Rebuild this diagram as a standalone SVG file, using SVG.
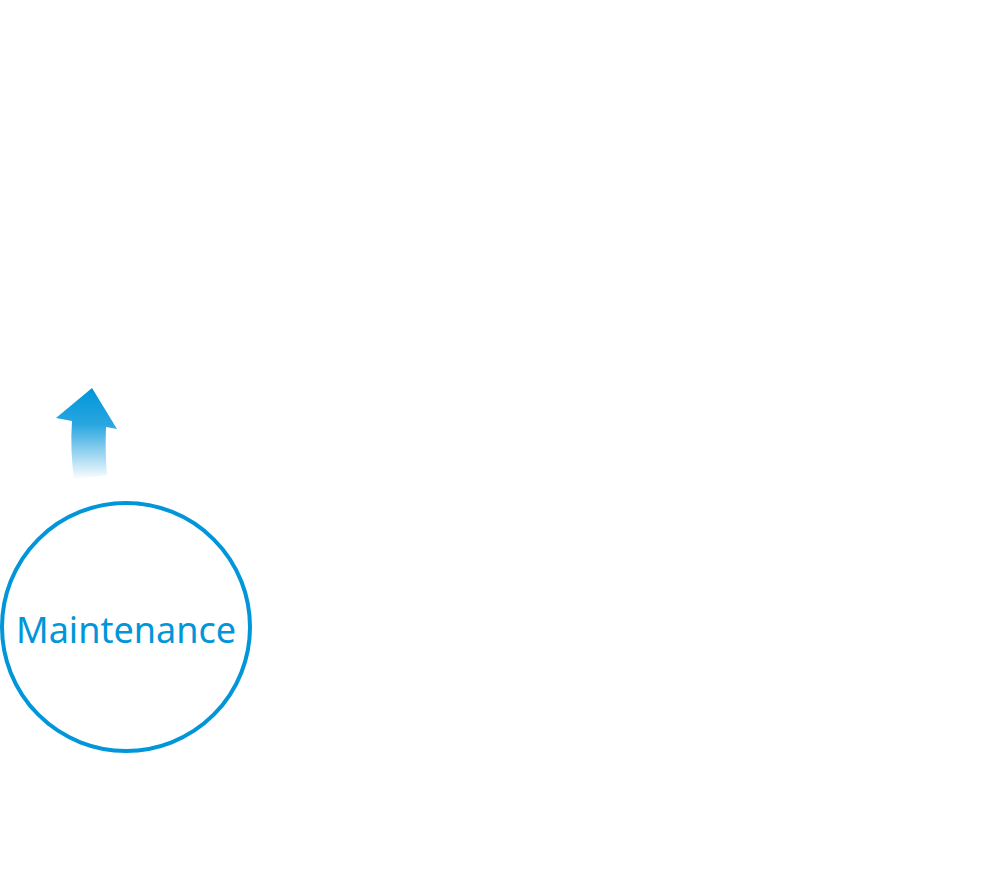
<svg xmlns="http://www.w3.org/2000/svg" width="998" height="882" viewBox="0 0 998 882">
<defs>
<linearGradient id="g" x1="0" y1="388" x2="0" y2="480" gradientUnits="userSpaceOnUse">
<stop offset="0" stop-color="#0096d9"/>
<stop offset="0.4" stop-color="#2aa6e0"/>
<stop offset="1" stop-color="#ffffff"/>
</linearGradient>
<style>.t{font-family:"Noto Sans","Open Sans",sans-serif;font-size:36px;fill:#0096d9}</style>
</defs>
<rect width="998" height="882" fill="#fff"/>
<g id="connectors">
<path d="M92,388 L117,429 L106,427 Q105,450 107,475 L74,479 Q70,450 72,421 L56,418 Z" fill="url(#g)"/>
</g>
<g id="maintenance">
<circle cx="126" cy="627" r="124" fill="#fff" stroke="#0096d9" stroke-width="4"/>
<text class="t" x="126" y="643" text-anchor="middle">Maintenance</text>
</g>
</svg>
